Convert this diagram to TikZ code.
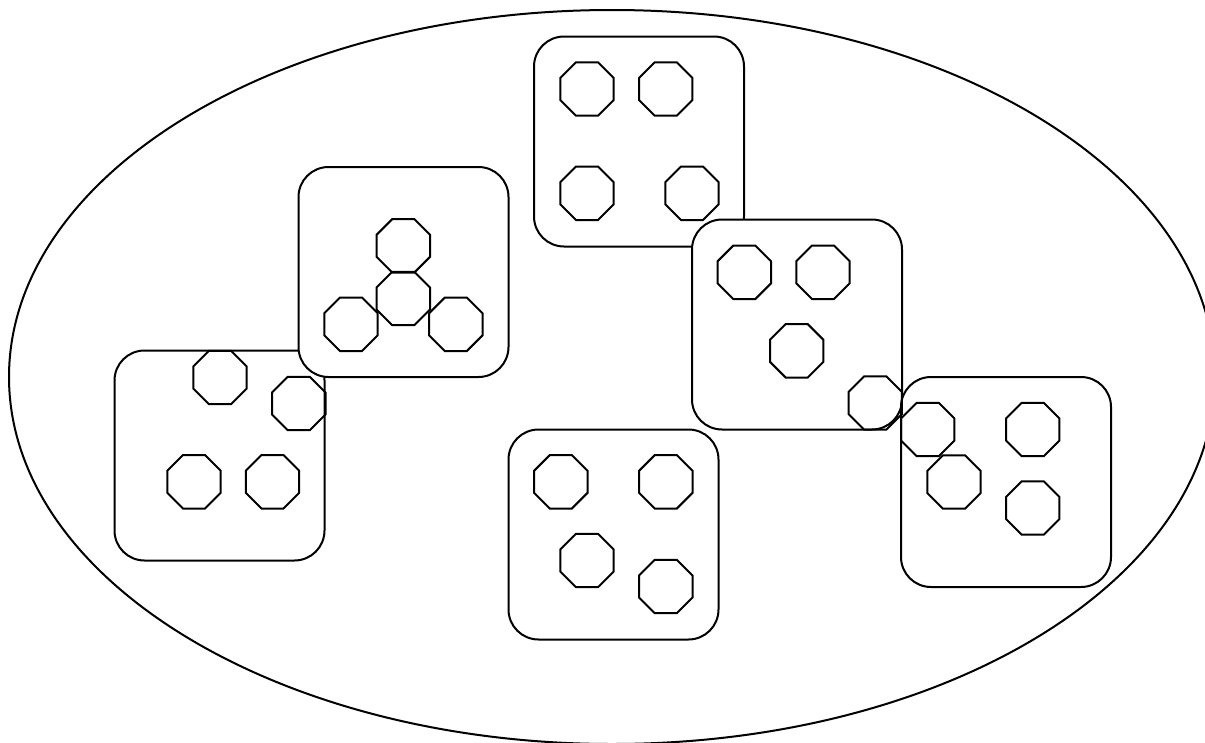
\documentclass[tikz,border=0pt]{standalone}
\usetikzlibrary{shapes.geometric}
\begin{document}
\begin{tikzpicture}[x=1pt,y=-1pt,line width=2pt,
  box/.style={draw,fill=white,rectangle,rounded corners=30pt,minimum width=210pt,minimum height=210pt,inner sep=0pt},
  oct/.style={draw,regular polygon,regular polygon sides=8,minimum size=57.8pt,inner sep=0pt}]
\useasboundingbox (0,0) rectangle (1205,742);
\clip (0,0) rectangle (1205,742);
\draw (612,377) ellipse [x radius=603, y radius=367];
% box A
\node[box] (bA) at (639,141.5) {};
\node[oct] (a1) at (587,89) {};
\node[oct] (a2) at (665.7,89) {};
\node[oct] (a3) at (587,193.3) {};
\node[oct] (a4) at (692,193.3) {};
% box D
\node[box] (bD) at (797,324.5) {};
\node[oct] (d1) at (744.3,272.3) {};
\node[oct] (d2) at (823,272.3) {};
\node[oct] (d3) at (796.7,350.8) {};
% box C
\node[box] (bC) at (219.5,455.5) {};
\node[oct] (c1) at (220,377.5) {};
\node[oct] (c2) at (298.8,403.5) {};
\node[oct] (c3) at (194,481.8) {};
\node[oct] (c4) at (272.5,481.8) {};
% box B
\node[box] (bB) at (403.5,272) {};
\node[oct] (b1) at (403.3,245.8) {};
\node[oct] (b2) at (403.3,298.5) {};
\node[oct] (b3) at (351,324.3) {};
\node[oct] (b4) at (455.8,324.3) {};
% box E
\node[box] (bE) at (1006,482) {};
\node[oct] (d4) at (875.2,403) {};
\node[oct] (e1) at (927.7,429.5) {};
\node[oct] (e2) at (954,482) {};
\node[oct] (e3) at (1032.7,429.5) {};
\node[oct] (e4) at (1032.7,508) {};
% box F
\node[box] (bF) at (613.5,534.5) {};
\node[oct] (f1) at (560.8,481.8) {};
\node[oct] (f2) at (665.8,481.8) {};
\node[oct] (f3) at (587,560.5) {};
\node[oct] (f4) at (665.8,586.5) {};
\end{tikzpicture}
\end{document}
